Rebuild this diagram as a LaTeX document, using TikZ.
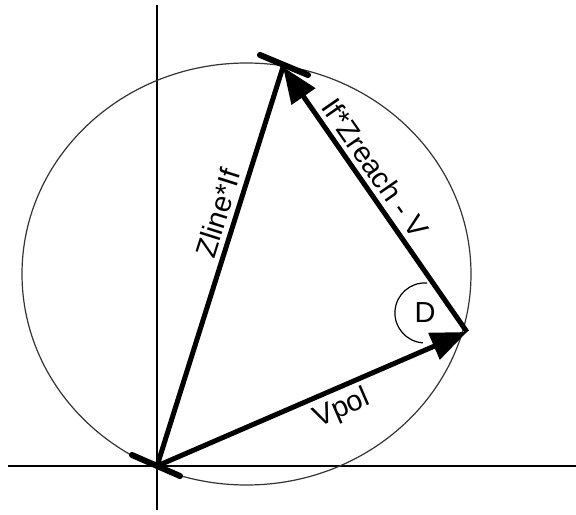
\documentclass[tikz,border=0pt]{standalone}
\usepackage{fontspec}
\setmainfont{Liberation Sans}
\usetikzlibrary{arrows.meta}

\begin{document}
\begin{tikzpicture}[x=0.5pt,y=0.5pt,
    vec/.style={line width=2.5pt,-{Triangle[length=18pt,width=14pt]}},
    side/.style={line width=2.5pt},
    tickmark/.style={line width=3pt,line cap=round},
    lbl/.style={font=\fontsize{14.5}{17}\selectfont,sloped,inner sep=2.5pt}]
    \useasboundingbox (0,0) rectangle (576,514);

    % Axes
    \coordinate (xl) at (8,48);
    \coordinate (xr) at (576,48);
    \coordinate (yb) at (157,4);
    \coordinate (yt) at (157,509);
    \draw[line width=0.7pt] (xl) -- (xr);
    \draw[line width=0.7pt] (yb) -- (yt);

    % Circle through the points
    \draw[line width=0.6pt,black!80] (246.5,240) ellipse [x radius=224.5,y radius=211];

    % Points of the triangle
    \coordinate (O) at (157,48);
    \coordinate (A) at (467,182);
    \coordinate (B) at (283,447);

    % Short marks at O and B
    \coordinate (o1) at (132,59);
    \coordinate (o2) at (180,38);
    \coordinate (b1) at (260,459);
    \coordinate (b2) at (308,439);
    \draw[tickmark] (o1) -- (o2);
    \draw[tickmark] (b1) -- (b2);

    % Vectors
    \draw[vec] (O) -- node[lbl,below,pos=0.57] {Vpol} (A);
    \draw[side] (O) -- node[lbl,above,pos=0.62] {Zline*If} (B);
    \draw[vec] (A) -- node[lbl,above,pos=0.58] {If*Zreach - V} (B);

    % Angle D
    \draw[line width=0.6pt] (427,231) arc[start angle=86,end angle=266,radius=15pt];
    \node[font=\fontsize{14.5}{17}\selectfont] (D) at (425,201) {D};
\end{tikzpicture}
\end{document}
